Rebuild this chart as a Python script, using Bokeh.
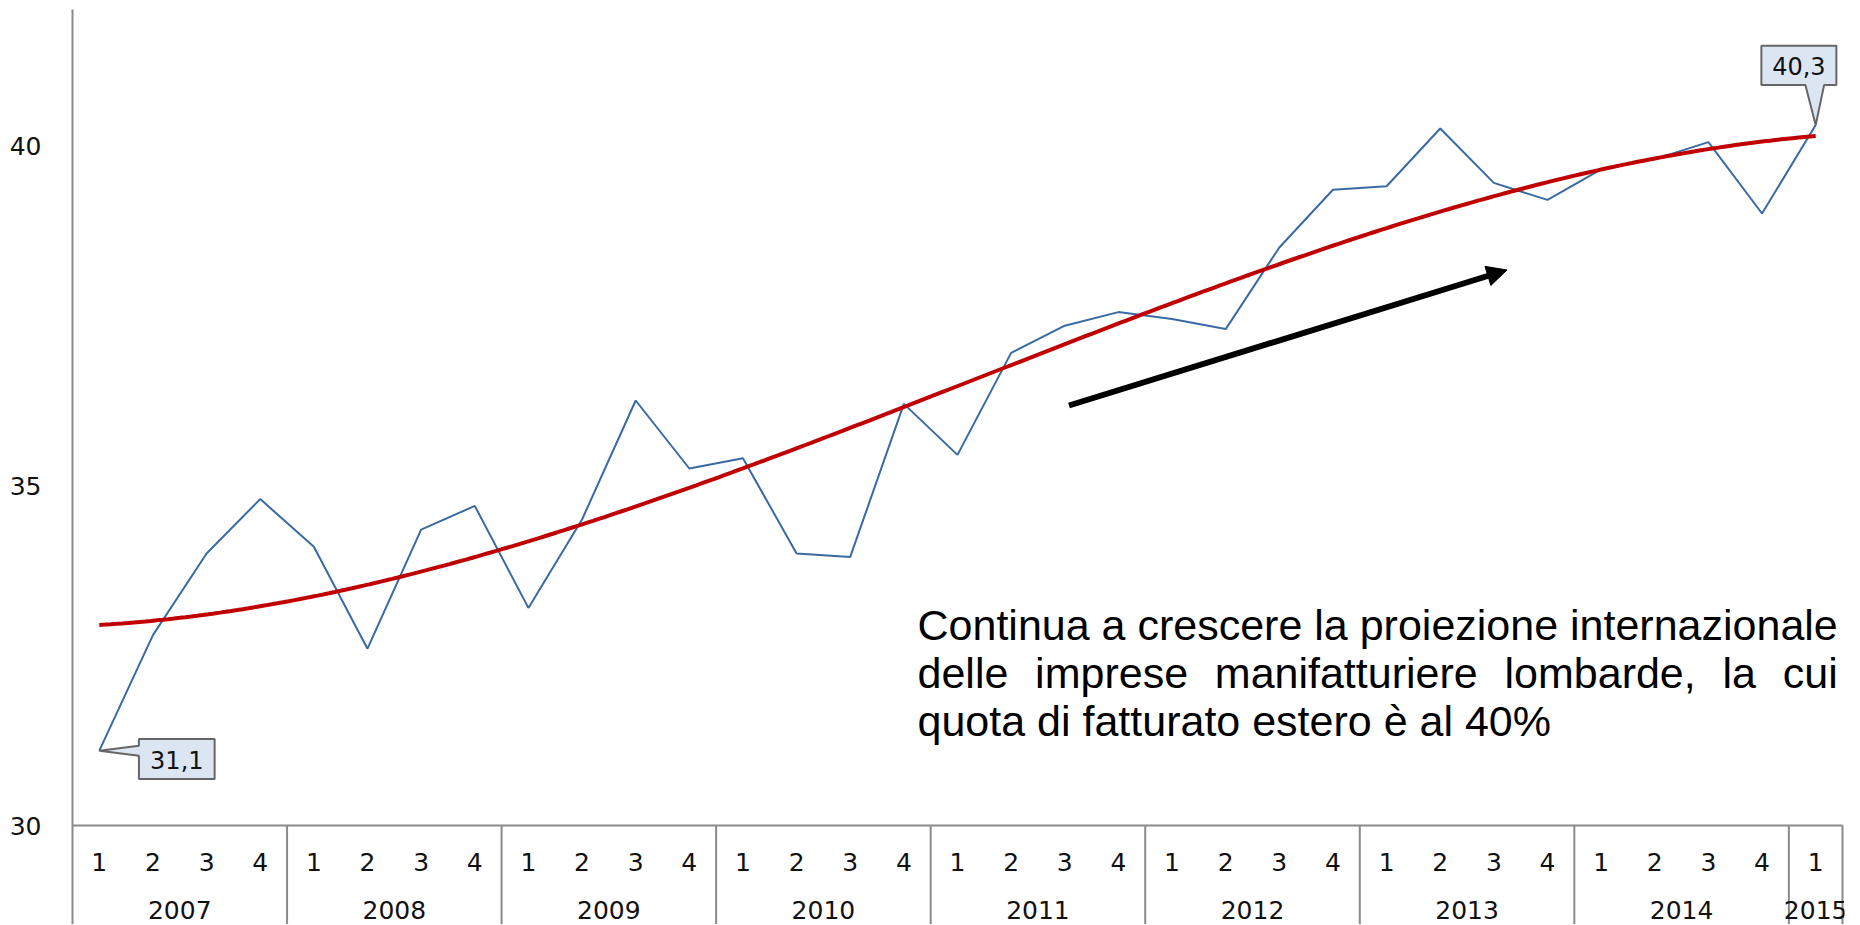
import numpy as np
from bokeh.plotting import figure
from bokeh.models import Range1d, FixedTicker, Arrow, NormalHead
from bokeh.core.properties import value
from bokeh.embed import file_html
from bokeh.resources import INLINE

# ---------------- data ----------------
years = ["2007", "2008", "2009", "2010", "2011", "2012", "2013", "2014", "2015"]
quarters_per_year = [4, 4, 4, 4, 4, 4, 4, 4, 1]
quota_estero = [31.1, 32.8, 34.0, 34.8,
                34.1, 32.6, 34.35, 34.7,
                33.2, 34.5, 36.25, 35.25,
                35.4, 34.0, 33.95, 36.2,
                35.45, 36.95, 37.35, 37.55,
                37.45, 37.3, 38.5, 39.35,
                39.4, 40.25, 39.45, 39.2,
                39.65, 39.8, 40.05, 39.0,
                40.3]
y_ticks = [30, 35, 40]
first_label = "31,1"
last_label = "40,3"
note_line1 = "Continua a crescere la proiezione internazionale"
note_line2 = ["delle", "imprese", "manifatturiere", "lombarde,", "la", "cui"]
note_line3 = "quota di fatturato estero è al 40%"

# ---------------- geometry helpers (page pixels -> data) ----------------
PXX = 53.636   # px per quarter
PXY = 68.0     # px per unit
Y_BASE_PX = 825.0
X_LEFT_PX = 72.0
def X(px):
    return (px - X_LEFT_PX) / PXX
def Y(py):
    return 30 + (Y_BASE_PX - py) / PXY

n = len(quota_estero)
xs = [i + 0.5 for i in range(n)]
quarter_labels = []
for y_, nq in zip(years, quarters_per_year):
    quarter_labels += [str(q + 1) for q in range(nq)]

W, H = 1858, 924
TOP = 9
ylo = Y(H)
p = figure(width=W, height=H, x_range=Range1d(0, n + 2 / PXX), y_range=Range1d(ylo, Y(TOP)),
           output_backend="svg", toolbar_location=None, x_axis_location=None,
           min_border_left=72, min_border_right=W - 1844, min_border_top=TOP, min_border_bottom=0)
p.outline_line_color = None
p.grid.visible = False
p.background_fill_color = "white"

LABEL_FONT = value("DejaVu Sans")
LSIZE = "25px"
ax = p.yaxis[0]
ax.ticker = FixedTicker(ticks=y_ticks)
ax.major_tick_line_color = None
ax.minor_tick_line_color = None
ax.axis_line_color = "#8a8a8a"
ax.axis_line_width = 2
ax.major_label_text_font = "DejaVu Sans"
ax.major_label_text_font_size = LSIZE
ax.major_label_text_color = "#111111"
ax.major_label_standoff = 25

GRAY = "#8a8a8a"
# category axis line and separators
p.segment(x0=[0], y0=[30], x1=[n], y1=[30], line_color=GRAY, line_width=2)
bounds = list(np.cumsum(quarters_per_year))
p.segment(x0=bounds, y0=[30] * len(bounds), x1=bounds, y1=[ylo] * len(bounds),
          line_color=GRAY, line_width=2)

p.text(x=xs, y=[Y(861)] * n, text=quarter_labels, text_align="center", text_baseline="middle",
       text_font=LABEL_FONT, text_font_size=LSIZE, text_color="#111111")
starts = [0] + bounds[:-1]
year_x = [s + q / 2 for s, q in zip(starts, quarters_per_year)]
p.text(x=year_x, y=[Y(909)] * len(years), text=years, text_align="center", text_baseline="middle",
       text_font=LABEL_FONT, text_font_size=LSIZE, text_color="#111111")

# data line
p.line(xs, quota_estero, line_color="#3A6AA3", line_width=2)

# polynomial trend (order 3) fitted to the series
coef = np.polyfit(np.array(xs), np.array(quota_estero), 3)
tx = np.linspace(xs[0], xs[-1], 300)
p.line(tx, np.polyval(coef, tx), line_color="#C00000", line_width=4)

# arrow
p.add_layout(Arrow(end=NormalHead(size=20, fill_color="black", line_color="black", line_width=1),
                   x_start=X(1068.5), y_start=Y(405), x_end=X(1506.5), y_end=Y(269.5),
                   line_color="black", line_width=6))

# callouts
def callout(pt, poly, text, tcenter):
    x0, y0 = pt
    pxs = [x0 + dx / PXX for dx, dy in poly]
    pys = [y0 - dy / PXY for dx, dy in poly]
    p.patch(pxs, pys, fill_color="#DCE6F2", line_color="#666666", line_width=2)
    p.text(x=[x0 + tcenter[0] / PXX], y=[y0 - tcenter[1] / PXY], text=[text],
           text_align="center", text_baseline="middle",
           text_font=LABEL_FONT, text_font_size="24px", text_color="#111111")

callout((xs[0], quota_estero[0]),
        [(39.6, -11.7), (115.3, -11.7), (115.3, 28.3), (39.6, 28.3), (39.6, 5), (0, 0), (39.6, -5)],
        first_label, (77.5, 9.5))
callout((xs[-1], quota_estero[-1]),
        [(-54.3, -79.4), (20.7, -79.4), (20.7, -40), (8.4, -40), (0, 0), (-10.3, -40), (-54.3, -40)],
        last_label, (-16.8, -59.5))

# note text (justified)
NF = value("Liberation Sans")
p.text(x=[X(917)], y=[Y(624)], text=[note_line1], text_align="left", text_baseline="alphabetic",
       text_font=NF, text_font_size="43px", text_color="black")
word_px = [917, 1034.6, 1214.3, 1504.0, 1722.0, 1782.3]
p.text(x=[X(v) for v in word_px], y=[Y(672)] * len(note_line2), text=note_line2,
       text_align="left", text_baseline="alphabetic",
       text_font=NF, text_font_size="43px", text_color="black")
p.text(x=[X(917)], y=[Y(720)], text=[note_line3], text_align="left", text_baseline="alphabetic",
       text_font=NF, text_font_size="43px", text_color="black")

open("out.html", "w").write(file_html(p, INLINE))
